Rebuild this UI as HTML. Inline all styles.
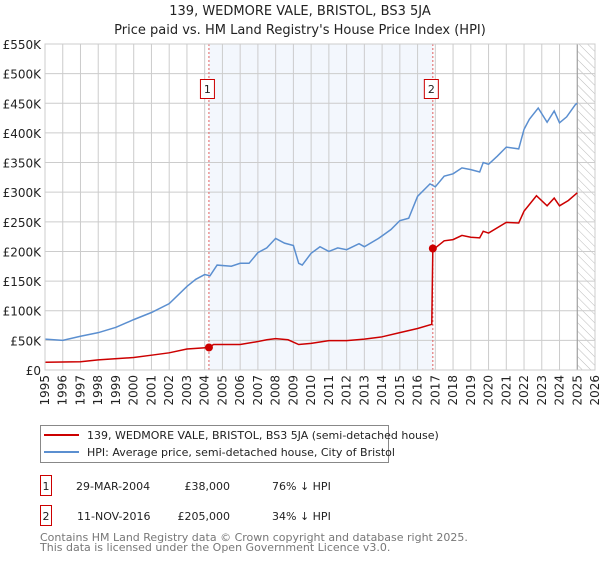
<!DOCTYPE html>
<html><head><meta charset="utf-8"><style>
body{margin:0;background:#fff;width:600px;height:560px;overflow:hidden;font-family:"DejaVu Sans","Liberation Sans",sans-serif;}
svg text{font-family:"DejaVu Sans","Liberation Sans",sans-serif;}
</style></head><body>
<svg id="chart" width="600" height="560" xmlns="http://www.w3.org/2000/svg">
<defs><pattern id="hatch" width="6" height="6" patternUnits="userSpaceOnUse" patternTransform="rotate(-45)"><line x1="0" y1="0" x2="0" y2="6" stroke="#bbb" stroke-width="1"/></pattern></defs>
<text x="300" y="15" text-anchor="middle" font-size="13" fill="#222">139, WEDMORE VALE, BRISTOL, BS3 5JA</text>
<text x="300" y="34" text-anchor="middle" font-size="13" fill="#222">Price paid vs. HM Land Registry's House Price Index (HPI)</text>
<g id="plot"></g>
<g>
<rect x="40.5" y="425.5" width="348" height="37" fill="#fff" stroke="#888"/>
<line x1="44" y1="435" x2="79" y2="435" stroke="#cc0000" stroke-width="2"/>
<text x="87" y="439" font-size="11" fill="#222">139, WEDMORE VALE, BRISTOL, BS3 5JA (semi-detached house)</text>
<line x1="44" y1="452" x2="79" y2="452" stroke="#5b8fd0" stroke-width="2"/>
<text x="87" y="456" font-size="11" fill="#222">HPI: Average price, semi-detached house, City of Bristol</text>
</g>
<g font-size="11" fill="#222">
<rect x="40.5" y="475.5" width="11" height="20" fill="#fff" stroke="#cc0000"/>
<text x="46" y="490" text-anchor="middle">1</text>
<text x="76" y="490">29-MAR-2004</text>
<text x="230" y="490" text-anchor="end">£38,000</text>
<text x="272" y="490">76% ↓ HPI</text>
<rect x="40.5" y="505.5" width="11" height="20" fill="#fff" stroke="#cc0000"/>
<text x="46" y="520" text-anchor="middle">2</text>
<text x="77" y="520">11-NOV-2016</text>
<text x="230" y="520" text-anchor="end">£205,000</text>
<text x="272" y="520">34% ↓ HPI</text>
</g>
<text x="40" y="541" font-size="11" fill="#777">Contains HM Land Registry data © Crown copyright and database right 2025.</text>
<text x="40" y="551" font-size="11" fill="#777">This data is licensed under the Open Government Licence v3.0.</text>
</svg>
<script>
const hpiYears=[1995,1996,1997,1998,1999,2000,2001,2002,2003,2003.5,2004,2004.3,2004.7,2005.5,2006,2006.5,2007,2007.5,2008,2008.5,2009,2009.3,2009.5,2010,2010.5,2011,2011.5,2012,2012.7,2013,2013.8,2014.5,2015,2015.5,2016,2016.7,2017,2017.5,2018,2018.5,2019,2019.5,2019.7,2020,2020.5,2021,2021.7,2022,2022.3,2022.8,2023.3,2023.7,2024,2024.4,2024.9,2025];
const hpiValues=[52,50,57,63,72,85,97,112,141,153,161,159,177,175,180,180,198,206,222,214,210,180,177,197,208,200,206,203,213,208,222,237,252,256,293,314,309,327,331,341,338,334,350,347,361,376,373,406,423,442,418,437,417,427,448,450];
const priceYears=[1995,1997,1998,2000,2001,2002,2003,2004.24,2004.5,2006,2007,2007.5,2008,2008.7,2009.3,2010,2011,2012,2013,2014,2015,2016,2016.8,2016.86,2017,2017.5,2018,2018.5,2019,2019.5,2019.7,2020,2021,2021.7,2022,2022.7,2023.3,2023.7,2024,2024.5,2025];
const priceValues=[13,14,17,21,25,29,35.5,38,43,43,48,51,53,51,43,45,49.6,49.6,52,56,63,70,77,205,206,218,220,227,224,223,234,231,249,248,268,294,277,290,277,286,299];
const sales=[{label:"1",year:2004.24,value:38},{label:"2",year:2016.86,value:205}];
const yTicks=[0,50,100,150,200,250,300,350,400,450,500,550];
const xTicks=[1995,1996,1997,1998,1999,2000,2001,2002,2003,2004,2005,2006,2007,2008,2009,2010,2011,2012,2013,2014,2015,2016,2017,2018,2019,2020,2021,2022,2023,2024,2025,2026];
const X0=45,X1=595,Y0=370,Y1=44,xmin=1995,xmax=2026,ymax=550;
const xs=y=>X0+(y-xmin)/(xmax-xmin)*(X1-X0);
const ys=v=>Y0-v/ymax*(Y0-Y1);
const NS="http://www.w3.org/2000/svg";
const g=document.getElementById('plot');
function mk(t,a){const e=document.createElementNS(NS,t);for(const k in a)e.setAttribute(k,a[k]);g.appendChild(e);return e;}
let e;
e=mk('rect',{x:xs(sales[0].year),y:Y1,width:xs(sales[1].year)-xs(sales[0].year),height:Y0-Y1,fill:'#eef3fc',opacity:0.7});


e=mk('rect',{x:xs(2025),y:Y1,width:X1-xs(2025),height:Y0-Y1,fill:'url(#hatch)'});


yTicks.forEach(v=>{
  e=mk('line',{x1:X0,x2:X1,y1:ys(v),y2:ys(v),stroke:'#ccc','stroke-width':1});
  
  
  e=mk('text',{x:X0-4,y:ys(v)+5,'text-anchor':'end','font-size':12,fill:'#222'});
  e.textContent=v===0?'£0':'£'+v+'K';
  
  
});
xTicks.forEach(y=>{
  e=mk('line',{x1:xs(y),x2:xs(y),y1:Y1,y2:Y0,stroke:'#ccc','stroke-width':1});
  
  
  e=mk('text',{x:0,y:0,'text-anchor':'end','font-size':12,fill:'#222',transform:`translate(${xs(y)+4},${Y0+5}) rotate(-90)`});
  e.textContent=y;
  
  
});
e=mk('line',{x1:xs(2025),x2:xs(2025),y1:Y1,y2:Y0,stroke:'#999','stroke-width':1});


sales.forEach(s=>{
  e=mk('line',{x1:xs(s.year),x2:xs(s.year),y1:Y1,y2:Y0,stroke:'#e06060','stroke-width':1,'stroke-dasharray':'2,2'});
  
  
});
e=mk('polyline',{points:hpiYears.map((y,i)=>xs(y)+','+ys(hpiValues[i])).join(' '),fill:'none',stroke:'#5b8fd0','stroke-width':1.5});


e=mk('polyline',{points:priceYears.map((y,i)=>xs(y)+','+ys(priceValues[i])).join(' '),fill:'none',stroke:'#cc0000','stroke-width':1.5});


sales.forEach(s=>{
  e=mk('circle',{cx:xs(s.year),cy:ys(s.value),r:4,fill:'#cc0000'});
  
  
  e=mk('rect',{x:xs(s.year)-8.5,y:79.5,width:14,height:19,fill:'#fff',stroke:'#cc0000'});
  
  
  e=mk('text',{x:xs(s.year)-1.5,y:93,'text-anchor':'middle','font-size':11,fill:'#222'});
  e.textContent=s.label;
  
  
});
e=mk('rect',{x:X0,y:Y1,width:X1-X0,height:Y0-Y1,fill:'none',stroke:'#ccc'});


</script>
</body></html>
